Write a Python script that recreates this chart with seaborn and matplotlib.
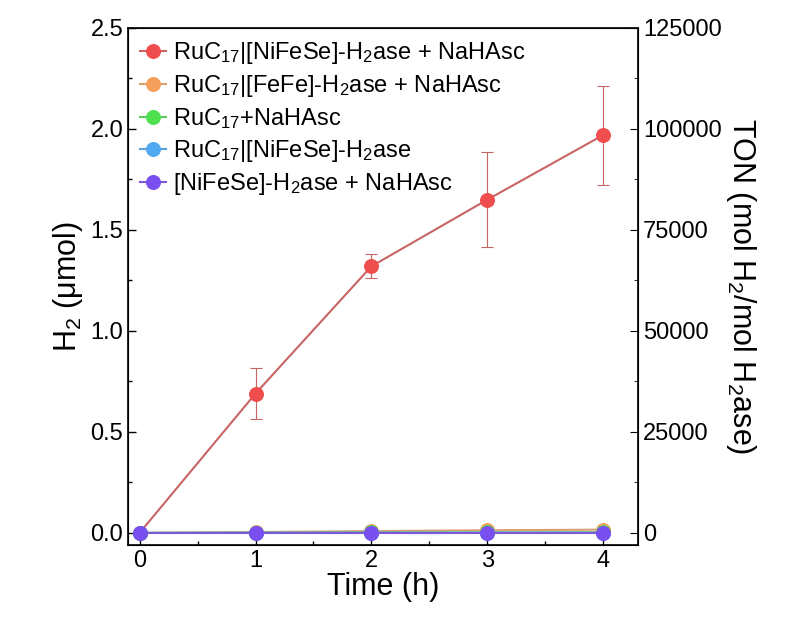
import matplotlib
matplotlib.use("Agg")
import matplotlib.pyplot as plt
import seaborn as sns
import pandas as pd
from matplotlib.ticker import MultipleLocator

time_h = [0, 1, 2, 3, 4]
labels = [r"RuC$_{17}$|[NiFeSe]-H$_2$ase + NaHAsc",
          r"RuC$_{17}$|[FeFe]-H$_2$ase + NaHAsc",
          r"RuC$_{17}$+NaHAsc",
          r"RuC$_{17}$|[NiFeSe]-H$_2$ase",
          r"[NiFeSe]-H$_2$ase + NaHAsc"]
h2_nifese_asc = [0.0, 0.69, 1.32, 1.65, 1.97]
h2_nifese_asc_err = [0.0, 0.125, 0.06, 0.235, 0.245]
h2_fefe_asc = [0.0, 0.004, 0.009, 0.013, 0.016]
h2_ru_asc = [0.0, 0.001, 0.002, 0.002, 0.003]
h2_ru_nifese = [0.0, 0.001, 0.001, 0.001, 0.001]
h2_nifese_only = [0.0, 0.0, 0.0, 0.0, 0.0]
series = [h2_nifese_asc, h2_fefe_asc, h2_ru_asc, h2_ru_nifese, h2_nifese_only]
marker_colors = ["#f04e4e", "#f5a05a", "#4fe04f", "#4fa8f0", "#7a4ff0"]
line_colors = ["#c86464", "#d9a070", "#5cc85c", "#5ca0d8", "#7a5ad8"]

plt.rcParams["font.family"] = "Liberation Sans"
plt.rcParams["mathtext.fontset"] = "custom"
plt.rcParams["mathtext.rm"] = "Liberation Sans"
plt.rcParams["mathtext.it"] = "Liberation Sans:italic"
fig = plt.figure(figsize=(8.01, 6.33), dpi=100)
ax = fig.add_axes([128/801, 1-545/633, 510/801, 517/633])

ax.errorbar(time_h, h2_nifese_asc, yerr=h2_nifese_asc_err, fmt="none",
            ecolor="#c86464", elinewidth=0.8, capsize=4, capthick=0.8, zorder=2)
for i in range(len(series)):
    df = pd.DataFrame({"t": time_h, "v": series[i]})
    sns.lineplot(data=df, x="t", y="v", ax=ax, color=line_colors[i], lw=1.5,
                 marker="o", markersize=10, markerfacecolor=marker_colors[i],
                 markeredgecolor=marker_colors[i], label=labels[i], zorder=3+i)

ax.set_xlim(-0.1, 4.3)
ax.set_ylim(-0.06, 2.5)
ax.xaxis.set_major_locator(MultipleLocator(1))
ax.xaxis.set_minor_locator(MultipleLocator(0.5))
ax.yaxis.set_major_locator(MultipleLocator(0.5))
ax.yaxis.set_minor_locator(MultipleLocator(0.25))
ax.tick_params(which="both", direction="in", labelsize=17, width=1)
ax.tick_params(which="major", length=6)
ax.tick_params(which="minor", length=3)
ax.set_xlabel("Time (h)", fontsize=22, labelpad=0)
ax.set_ylabel("H$_2$ (μmol)", fontsize=22)
for s in ax.spines.values():
    s.set_linewidth(1.2)

ax2 = ax.twinx()
ax2.set_ylim(-0.06*50000, 2.5*50000)
ax2.yaxis.set_major_locator(MultipleLocator(25000))
ax2.yaxis.set_minor_locator(MultipleLocator(12500))
ax2.tick_params(which="both", direction="in", labelsize=17)
ax2.tick_params(which="major", length=6)
ax2.tick_params(which="minor", length=3)
ax2.set_ylabel(r"TON (mol H$_2$/mol H$_2$ase)", fontsize=22, rotation=270, labelpad=26)

ax.legend(loc="upper left", frameon=False, fontsize=17,
          handlelength=1.1, handletextpad=0.3, borderaxespad=0.1, labelspacing=0.3)
fig.savefig("out.png", dpi=100)
